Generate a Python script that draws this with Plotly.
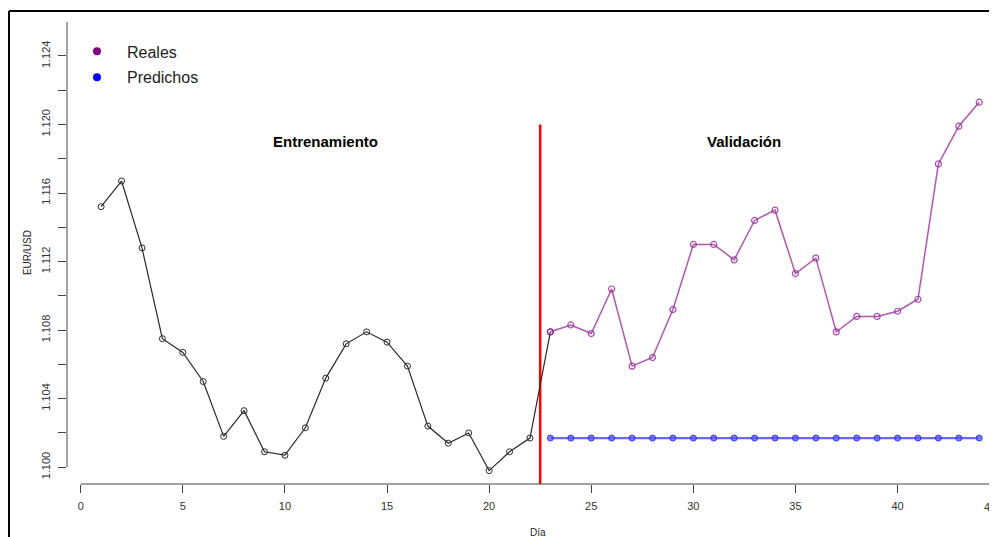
import plotly.graph_objects as go

# ---- data ----
train_days = [1, 2, 3, 4, 5, 6, 7, 8, 9, 10, 11, 12, 13, 14, 15, 16, 17, 18, 19, 20, 21, 22]
train_vals = [1.1152, 1.1167, 1.1128, 1.1075, 1.1067, 1.1050, 1.1018, 1.1033, 1.1009, 1.1007,
              1.1023, 1.1052, 1.1072, 1.1079, 1.1073, 1.1059, 1.1024, 1.1014, 1.1020, 1.0998,
              1.1009, 1.1017]
val_days = [23, 24, 25, 26, 27, 28, 29, 30, 31, 32, 33, 34, 35, 36, 37, 38, 39, 40, 41, 42, 43, 44]
real_vals = [1.1079, 1.1083, 1.1078, 1.1104, 1.1059, 1.1064, 1.1092, 1.1130, 1.1130, 1.1121,
             1.1144, 1.1150, 1.1113, 1.1122, 1.1079, 1.1088, 1.1088, 1.1091, 1.1098, 1.1177,
             1.1199, 1.1213]
pred_vals = [1.1017, 1.1017, 1.1017, 1.1017, 1.1017, 1.1017, 1.1017, 1.1017, 1.1017, 1.1017,
             1.1017, 1.1017, 1.1017, 1.1017, 1.1017, 1.1017, 1.1017, 1.1017, 1.1017, 1.1017,
             1.1017, 1.1017]

split_day = 22.5
split_top = 1.120

x_tickvals = [0, 5, 10, 15, 20, 25, 30, 35, 40]
x_ticktext = ["0", "5", "10", "15", "20", "25", "30", "35", "40"]
y_tickvals = [1.100, 1.102, 1.104, 1.106, 1.108, 1.110, 1.112, 1.114, 1.116, 1.118,
              1.120, 1.122, 1.124, 1.126]
y_ticktext = ["1.100", "", "1.104", "", "1.108", "", "1.112", "", "1.116", "",
              "1.120", "", "1.124", ""]

x_range = [-0.671, 44.87]
y_range = [1.09902, 1.12598]

FONT = "Liberation Sans, Arial, sans-serif"

fig = go.Figure()

# black (training) line, joined to first validation point
fig.add_trace(go.Scatter(
    x=train_days + val_days[:1], y=train_vals + real_vals[:1],
    mode="lines+markers",
    line=dict(color="#2a2a2a", width=1.2),
    marker=dict(symbol="circle-open", size=6, color="#2a2a2a", line=dict(width=1)),
    showlegend=False, hoverinfo="x+y"))

fig.add_trace(go.Scatter(
    x=val_days, y=real_vals, mode="lines+markers",
    line=dict(color="rgba(150,30,150,0.75)", width=1.5),
    marker=dict(symbol="circle-open", size=6, color="rgba(150,30,150,0.8)", line=dict(width=1.2)),
    showlegend=False))

fig.add_trace(go.Scatter(
    x=val_days, y=pred_vals, mode="lines+markers",
    line=dict(color="rgba(40,40,255,0.7)", width=2.2),
    marker=dict(symbol="circle", size=6, color="rgba(90,90,255,0.75)",
                line=dict(width=1, color="rgba(40,40,255,0.9)")),
    showlegend=False))

# legend-only entries
fig.add_trace(go.Scatter(x=[None], y=[None], mode="markers", name="Reales",
                         marker=dict(symbol="circle", size=8, color="#800080"),
                         legendgroup="a"))
fig.add_trace(go.Scatter(x=[None], y=[None], mode="markers", name="Predichos",
                         marker=dict(symbol="circle", size=8, color="#0000ff"),
                         legendgroup="b"))

shapes = [
    # split line
    dict(type="line", xref="x", yref="y", x0=split_day, x1=split_day,
         y0=y_range[0], y1=split_top, line=dict(color="#ff0000", width=2.5), layer="below"),
    # R-style axis lines
    dict(type="line", xref="paper", yref="y", x0=0, x1=0, y0=y_tickvals[0], y1=y_tickvals[-1],
         line=dict(color="#444444", width=1)),
    dict(type="line", xref="x", yref="paper", x0=x_tickvals[0], x1=46, y0=0, y1=0,
         line=dict(color="#444444", width=1)),
    # screenshot frame
    dict(type="line", xref="paper", yref="paper", x0=-0.0624, x1=-0.0624, y0=-0.2, y1=1.0238,
         line=dict(color="#000000", width=2)),
    dict(type="line", xref="paper", yref="paper", x0=-0.0624, x1=1.05, y0=1.0238, y1=1.0238,
         line=dict(color="#000000", width=2)),
]

annotations = [
    dict(x=12, y=1.119, xref="x", yref="y", text="<b>Entrenamiento</b>", showarrow=False,
         font=dict(family=FONT, size=15, color="#000000")),
    dict(x=32.5, y=1.119, xref="x", yref="y", text="<b>Validación</b>", showarrow=False,
         font=dict(family=FONT, size=15, color="#000000")),
    dict(x=-0.051, y=0.5, xref="paper", yref="paper", text="EUR/USD", textangle=-90,
         showarrow=False, font=dict(family=FONT, size=10, color="#222222")),
    dict(x=0.5065, y=-0.105, xref="paper", yref="paper", text="Día", yanchor="middle",
         showarrow=False, font=dict(family=FONT, size=10, color="#222222")),
    dict(x=1.001, y=-0.05, xref="paper", yref="paper", text="45", yanchor="middle",
         showarrow=False, font=dict(family=FONT, size=11, color="#333333")),
]

fig.update_layout(
    width=989, height=529,
    margin=dict(l=59, r=0, t=14, b=53),
    paper_bgcolor="white", plot_bgcolor="white",
    font=dict(family=FONT, size=11, color="#333333"),
    shapes=shapes, annotations=annotations,
    legend=dict(x=0.0, y=0.973, xanchor="left", yanchor="top",
                font=dict(family=FONT, size=16, color="#222222"),
                bgcolor="rgba(0,0,0,0)", tracegroupgap=2, itemwidth=50),
    xaxis=dict(range=x_range, tickmode="array", tickvals=x_tickvals, ticktext=x_ticktext,
               ticks="outside", ticklen=8, tickcolor="#444444", showgrid=False,
               zeroline=False, showline=False, ticklabelstandoff=4),
    yaxis=dict(range=y_range, tickmode="array", tickvals=y_tickvals, ticktext=y_ticktext,
               ticks="outside", ticklen=8, tickcolor="#444444", showgrid=False,
               zeroline=False, showline=False, tickangle=-90, ticklabelstandoff=4),
)

fig.write_html("out.html")
